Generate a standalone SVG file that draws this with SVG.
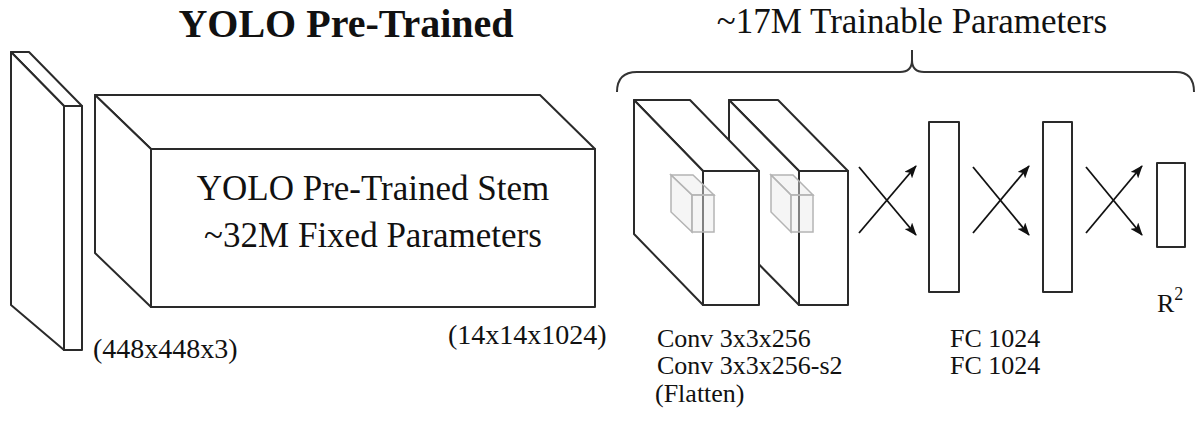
<svg xmlns="http://www.w3.org/2000/svg" width="1196" height="422" viewBox="0 0 1196 422">
<defs>
<style>
.box{fill:#fff;stroke:#2a2a2a;stroke-width:2;stroke-linejoin:round}
.ghost{fill:#e8e8e8;fill-opacity:0.45;stroke:#b4b4b4;stroke-width:1.5}
.t{font-family:"Liberation Serif","Times New Roman",serif;fill:#111}
.wire{stroke:#111;stroke-width:1.8;fill:none}
</style>
<marker id="ah" viewBox="0 0 13 10" refX="12" refY="5" markerWidth="13" markerHeight="10" markerUnits="userSpaceOnUse" orient="auto">
<path d="M0,0 L13,5 L0,10 L3,5 Z" fill="#111"/>
</marker>
</defs>
<rect width="1196" height="422" fill="#fff"/>
<text class="t" x="346" y="37" font-size="40" font-weight="bold" text-anchor="middle">YOLO Pre-Trained</text>
<text class="t" x="912" y="33" font-size="35" text-anchor="middle">~17M Trainable Parameters</text>
<path d="M617,92 Q617,72 637,72 L900,72 Q912,72 912,60 L912,50 M912,60 Q912,72 924,72 L1176,72 Q1194,72 1194,92" fill="none" stroke="#333" stroke-width="2"/>
<g id="input">
<polygon class="box" points="11,52 29,52 82,106 64,106"/>
<polygon class="box" points="11,52 64,106 64,350 11,305"/>
<rect class="box" x="64" y="106" width="18" height="244"/>
<text class="t" x="93" y="358" font-size="28">(448x448x3)</text>
</g>
<g id="stem">
<polygon class="box" points="95,95 540,95 595,149 151,149"/>
<polygon class="box" points="95,95 151,149 151,307 95,253"/>
<rect class="box" x="151" y="149" width="444" height="158"/>
<text class="t" x="373" y="200" font-size="35" text-anchor="middle">YOLO Pre-Trained Stem</text>
<text class="t" x="373" y="247" font-size="35" text-anchor="middle">~32M Fixed Parameters</text>
<text class="t" x="448" y="344" font-size="28">(14x14x1024)</text>
</g>
<g id="conv2">
<polygon class="box" points="729,100 778,100 848,171 799,171"/>
<polygon class="box" points="729,100 799,171 799,305 729,234"/>
<rect class="box" x="799" y="171" width="49" height="134"/>
</g>
<g id="conv1">
<polygon class="box" points="634,100 690,100 759,171 703,171"/>
<polygon class="box" points="634,100 703,171 703,305 634,234"/>
<rect class="box" x="703" y="171" width="56" height="134"/>
</g>
<g id="kernel1">
<polygon class="ghost" points="671,175 693,175 714,195 692,195"/>
<polygon class="ghost" points="671,175 692,195 692,232 671,212"/>
<rect class="ghost" x="692" y="195" width="22" height="37"/>
</g>
<g id="kernel2">
<polygon class="ghost" points="771,175 793,175 813,195 791,195"/>
<polygon class="ghost" points="771,175 791,195 791,232 771,212"/>
<rect class="ghost" x="791" y="195" width="22" height="37"/>
</g>
<g id="conv-label">
<text class="t" x="657" y="347" font-size="26">Conv 3x3x256</text>
<text class="t" x="657" y="374" font-size="26">Conv 3x3x256-s2</text>
<text class="t" x="655" y="402" font-size="26">(Flatten)</text>
</g>
<g id="fc1"><rect class="box" x="929" y="122" width="30" height="170"/></g>
<g id="fc2"><rect class="box" x="1043" y="122" width="29" height="170"/></g>
<g id="fc-label">
<text class="t" x="950" y="347" font-size="26">FC 1024</text>
<text class="t" x="950" y="374" font-size="26">FC 1024</text>
</g>
<g id="out">
<rect class="box" x="1157" y="163" width="28" height="84"/>
<text class="t" x="1157" y="312" font-size="26">R<tspan font-size="18" dy="-12">2</tspan></text>
</g>
<g id="connectors">
<line class="wire" x1="859" y1="167" x2="916" y2="235" marker-end="url(#ah)"/>
<line class="wire" x1="859" y1="233" x2="916" y2="166" marker-end="url(#ah)"/>
<line class="wire" x1="973" y1="167" x2="1029" y2="235" marker-end="url(#ah)"/>
<line class="wire" x1="973" y1="233" x2="1029" y2="166" marker-end="url(#ah)"/>
<line class="wire" x1="1086" y1="167" x2="1142" y2="235" marker-end="url(#ah)"/>
<line class="wire" x1="1086" y1="233" x2="1142" y2="166" marker-end="url(#ah)"/>
</g>
</svg>
